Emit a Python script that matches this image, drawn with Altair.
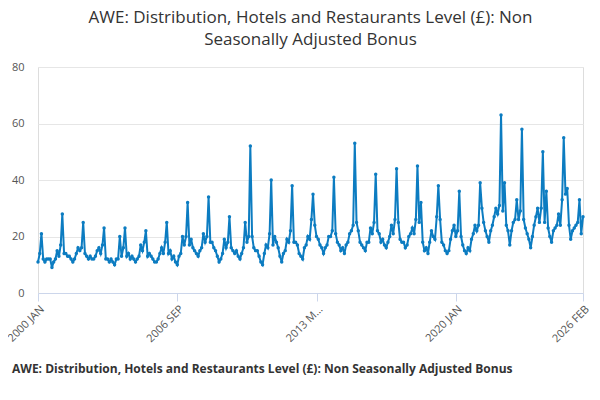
import altair as alt
import pandas as pd

SERIES = "AWE: Distribution, Hotels and Restaurants Level (£): Non Seasonally Adjusted Bonus"

# monthly values, Jan..Dec, one row per year
Y2000 = [11, 14, 21, 12, 11, 12, 12, 12, 9, 11, 12, 15]
Y2001 = [13, 17, 28, 14, 14, 13, 13, 12, 11, 12, 14, 16]
Y2002 = [15, 16, 25, 14, 13, 12, 13, 12, 12, 13, 15, 16]
Y2003 = [14, 17, 23, 12, 12, 11, 12, 11, 10, 12, 12, 20]
Y2004 = [13, 16, 23, 13, 14, 12, 13, 12, 11, 12, 13, 17]
Y2005 = [15, 18, 22, 13, 14, 13, 12, 11, 11, 12, 14, 16]
Y2006 = [14, 18, 25, 14, 15, 12, 13, 11, 10, 13, 14, 20]
Y2007 = [17, 20, 32, 17, 19, 16, 15, 14, 13, 15, 16, 21]
Y2008 = [18, 20, 34, 18, 18, 16, 15, 13, 11, 12, 14, 19]
Y2009 = [16, 18, 27, 16, 15, 14, 15, 13, 12, 14, 16, 25]
Y2010 = [18, 20, 52, 20, 16, 15, 15, 13, 11, 10, 14, 17]
Y2011 = [16, 21, 40, 17, 20, 18, 16, 13, 11, 14, 15, 19]
Y2012 = [18, 22, 38, 18, 18, 17, 14, 13, 12, 16, 17, 20]
Y2013 = [19, 26, 35, 24, 20, 19, 17, 16, 14, 16, 17, 20]
Y2014 = [20, 22, 41, 21, 18, 17, 15, 16, 14, 17, 18, 21]
Y2015 = [22, 24, 53, 25, 22, 18, 17, 16, 15, 18, 18, 23]
Y2016 = [21, 25, 42, 22, 21, 18, 19, 17, 16, 18, 20, 24]
Y2017 = [21, 26, 44, 25, 19, 18, 18, 16, 17, 20, 21, 23]
Y2018 = [21, 26, 45, 25, 32, 18, 15, 16, 14, 18, 22, 20]
Y2019 = [19, 27, 38, 26, 18, 17, 15, 14, 15, 19, 22, 24]
Y2020 = [20, 22, 36, 20, 17, 15, 14, 16, 15, 19, 21, 24]
Y2021 = [22, 24, 39, 30, 25, 22, 20, 18, 22, 24, 27, 30]
Y2022 = [28, 31, 63, 29, 39, 24, 22, 17, 22, 25, 26, 33]
Y2023 = [26, 29, 58, 26, 23, 21, 19, 16, 20, 24, 27, 30]
Y2024 = [25, 30, 50, 25, 36, 23, 20, 18, 22, 23, 24, 28]
Y2025 = [24, 33, 55, 35, 37, 24, 19, 22, 23, 24, 25, 33]
Y2026 = [21, 27]

YEARS = [Y2000, Y2001, Y2002, Y2003, Y2004, Y2005, Y2006, Y2007, Y2008,
         Y2009, Y2010, Y2011, Y2012, Y2013, Y2014, Y2015, Y2016, Y2017,
         Y2018, Y2019, Y2020, Y2021, Y2022, Y2023, Y2024, Y2025, Y2026]

TICKS = ["2000-01-01", "2006-09-01", "2013-05-01", "2020-01-01", "2026-02-01"]

values = [v for year in YEARS for v in year]
dates = pd.date_range("2000-01-01", periods=len(values), freq="MS")
df = pd.DataFrame({"date": dates, "value": values, "series": SERIES})

line = (
    alt.Chart(df)
    .mark_line(strokeWidth=2, point=alt.OverlayMarkDef(size=12, filled=True))
    .encode(
        x=alt.X(
            "date:T",
            title=None,
            scale=alt.Scale(domain=["2000-01-01", "2026-02-01"]),
            axis=alt.Axis(
                values=[pd.Timestamp(t).value // 10**6 for t in TICKS],
                labelExpr="upper(timeFormat(datum.value, '%Y %b'))",
                labelAngle=-45,
                labelAlign="right",
                labelLimit=50,
                labelColor="#555",
                labelFontSize=11,
                grid=False,
                domainColor="#ccd6eb",
                tickColor="#ccd6eb",
                tickSize=8,
            ),
        ),
        y=alt.Y(
            "value:Q",
            title=None,
            scale=alt.Scale(domain=[0, 80]),
            axis=alt.Axis(
                values=[0, 20, 40, 60, 80],
                labelColor="#555",
                labelFontSize=11,
                labelPadding=14,
                domain=False,
                ticks=False,
                gridColor="#e6e6e6",
            ),
        ),
        color=alt.Color(
            "series:N",
            scale=alt.Scale(range=["#0c7cc1"]),
            legend=alt.Legend(
                title=None,
                orient="none",
                legendX=-42,
                legendY=296,
                labelFontSize=12,
                labelFontWeight="bold",
                labelColor="#333",
                labelLimit=700,
                symbolType="stroke",
                symbolStrokeWidth=2,
            ),
        ),
    )
)

source = (
    alt.Chart(pd.DataFrame({"t": ["Source:"]}))
    .mark_text(align="right", fontSize=12, color="#555")
    .encode(text="t:N", x=alt.value(553), y=alt.value(323))
)

chart = (
    alt.layer(line, source)
    .properties(
        width=545,
        height=226,
        padding={"left": 30, "top": 59, "right": 9, "bottom": 90},
        autosize=alt.AutoSizeParams(type="none"),
        title=alt.Title(
            ["AWE: Distribution, Hotels and Restaurants Level (£): Non", "Seasonally Adjusted Bonus"],
            fontSize=17,
            fontWeight="normal",
            color="#333",
            anchor="middle",
            lineHeight=22,
            offset=12,
            font="Open Sans",
        ),
    )
    .configure_view(stroke=None)
    .configure(font="Open Sans")
)

chart.save("out.html", embed_options={"renderer": "svg", "actions": False})
